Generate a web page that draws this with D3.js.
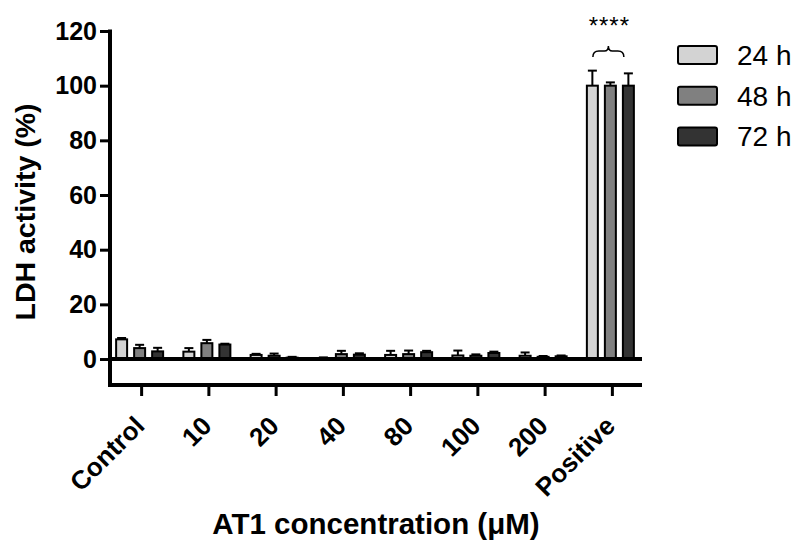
<!DOCTYPE html>
<html>
<head>
<meta charset="utf-8">
<script src="https://cdn.jsdelivr.net/npm/d3@7"></script>
<style>
  body { margin: 0; background: #fff; }
  text { font-family: "Liberation Sans", Arial, sans-serif; }
</style>
</head>
<body>
<div id="chart"></div>
<script>
const categories = ["Control", "10", "20", "40", "80", "100", "200", "Positive"];
const seriesNames = ["24 h", "48 h", "72 h"];
const mean24 = [7.2, 2.7, 1.5, 0.3, 1.5, 1.3, 1.2, 100];
const mean48 = [4.0, 5.8, 1.2, 1.8, 1.8, 1.2, 0.8, 100];
const mean72 = [2.8, 5.3, 0.5, 1.6, 2.5, 2.2, 1.0, 100];
const err24 = [0.5, 1.3, 0.4, 0.3, 1.5, 1.8, 1.2, 5.5];
const err48 = [1.2, 1.2, 0.8, 1.2, 1.3, 0.5, 0.3, 1.2];
const err72 = [1.3, 0.3, 0.3, 0.5, 0.5, 0.5, 0.3, 4.5];
const yTicks = [0, 20, 40, 60, 80, 100, 120];
const colors = ["#d3d3d3", "#808080", "#333333"];

const width = 796, height = 542;
const means = [mean24, mean48, mean72];
const errs = [err24, err48, err72];

const svg = d3.select("#chart").append("svg")
  .attr("width", width)
  .attr("height", height);

const y = d3.scaleLinear().domain([-9.5, 120]).range([385, 31]);
const x0 = d3.scaleBand().domain(categories).range([108, 646]);
const groupW = 47;
const x1 = d3.scaleBand().domain(seriesNames).range([0, groupW]).paddingInner(0.39);

// y axis
const yAxis = svg.append("g")
  .attr("transform", "translate(110,0)")
  .call(d3.axisLeft(y).tickValues(yTicks).tickSize(10).tickPadding(3));
yAxis.select(".domain").remove();
yAxis.selectAll(".tick line").attr("stroke", "#000").attr("stroke-width", 3);
yAxis.selectAll(".tick text")
  .attr("fill", "#000")
  .style("font-size", "25px")
  .style("font-weight", "bold");

svg.append("line")
  .attr("x1", 110).attr("x2", 110)
  .attr("y1", y(120) - 1.5).attr("y2", y(-9.5) + 2)
  .attr("stroke", "#000").attr("stroke-width", 4);

// x axis
const xAxis = svg.append("g")
  .attr("transform", `translate(0,${y(-9.5)})`)
  .call(d3.axisBottom(x0).tickSize(11).tickFormat(""));
xAxis.select(".domain").remove();
xAxis.selectAll(".tick line").attr("stroke", "#000").attr("stroke-width", 3);

svg.append("line")
  .attr("x1", 108).attr("x2", 642)
  .attr("y1", y(-9.5)).attr("y2", y(-9.5))
  .attr("stroke", "#000").attr("stroke-width", 4);

svg.append("g")
  .selectAll("text")
  .data(categories)
  .join("text")
  .attr("transform", (d) => `translate(${x0(d) + x0.bandwidth() / 2 - 2},${y(-9.5) + 36}) rotate(-45)`)
  .attr("text-anchor", "end")
  .attr("dy", "0.35em")
  .style("font-size", "26px")
  .style("font-weight", "bold")
  .text((d) => d);

// bars
const groups = svg.append("g")
  .selectAll("g")
  .data(categories)
  .join("g")
  .attr("transform", (d) => `translate(${x0(d) + x0.bandwidth() / 2 - groupW / 2 - 2},0)`);

groups.each(function (c, ci) {
  const g = d3.select(this);
  seriesNames.forEach((s, si) => {
    const v = means[si][ci];
    const e = errs[si][ci];
    const bx = x1(s);
    const cx = bx + x1.bandwidth() / 2;
    g.append("line")
      .attr("x1", cx).attr("x2", cx)
      .attr("y1", y(v)).attr("y2", y(v + e))
      .attr("stroke", "#000").attr("stroke-width", 2);
    g.append("line")
      .attr("x1", cx - 4.5).attr("x2", cx + 4.5)
      .attr("y1", y(v + e)).attr("y2", y(v + e))
      .attr("stroke", "#000").attr("stroke-width", 2);
    g.append("rect")
      .attr("x", bx)
      .attr("y", y(v))
      .attr("width", x1.bandwidth())
      .attr("height", y(0) - y(v))
      .attr("fill", colors[si])
      .attr("stroke", "#000")
      .attr("stroke-width", 2);
  });
});

// zero line
svg.append("line")
  .attr("x1", 108).attr("x2", 642)
  .attr("y1", y(0)).attr("y2", y(0))
  .attr("stroke", "#000").attr("stroke-width", 4);

// significance brace
const pc = x0("Positive") + x0.bandwidth() / 2 - 4;
const bl = pc - 15.5, br = pc + 15.5, by = 51;
svg.append("path")
  .attr("d", `M${bl},${by + 6} Q${bl},${by} ${bl + 6},${by} L${pc - 4},${by} Q${pc},${by} ${pc},${by - 5} Q${pc},${by} ${pc + 4},${by} L${br - 6},${by} Q${br},${by} ${br},${by + 6}`)
  .attr("fill", "none")
  .attr("stroke", "#000")
  .attr("stroke-width", 1.5);
svg.append("text")
  .attr("x", pc + 1)
  .attr("y", 34)
  .attr("text-anchor", "middle")
  .style("font-size", "24px")
  .style("letter-spacing", "1px")
  .text("****");

// legend
const legend = svg.append("g")
  .selectAll("g")
  .data(seriesNames)
  .join("g")
  .attr("transform", (d, i) => `translate(678,${46 + i * 40.7})`);
legend.append("rect")
  .attr("width", 39).attr("height", 18).attr("rx", 2)
  .attr("fill", (d, i) => colors[i])
  .attr("stroke", "#000").attr("stroke-width", 2);
legend.append("text")
  .attr("x", 59).attr("y", 9)
  .attr("dy", "0.36em")
  .style("font-size", "28px")
  .text((d) => d);

// titles
svg.append("text")
  .attr("x", 376).attr("y", 534)
  .attr("text-anchor", "middle")
  .style("font-size", "29.5px")
  .style("font-weight", "bold")
  .text("AT1 concentration (\u03bcM)");

svg.append("text")
  .attr("transform", `translate(35,${212}) rotate(-90)`)
  .attr("text-anchor", "middle")
  .style("font-size", "28.5px")
  .style("font-weight", "bold")
  .text("LDH activity (%)");
</script>
</body>
</html>
